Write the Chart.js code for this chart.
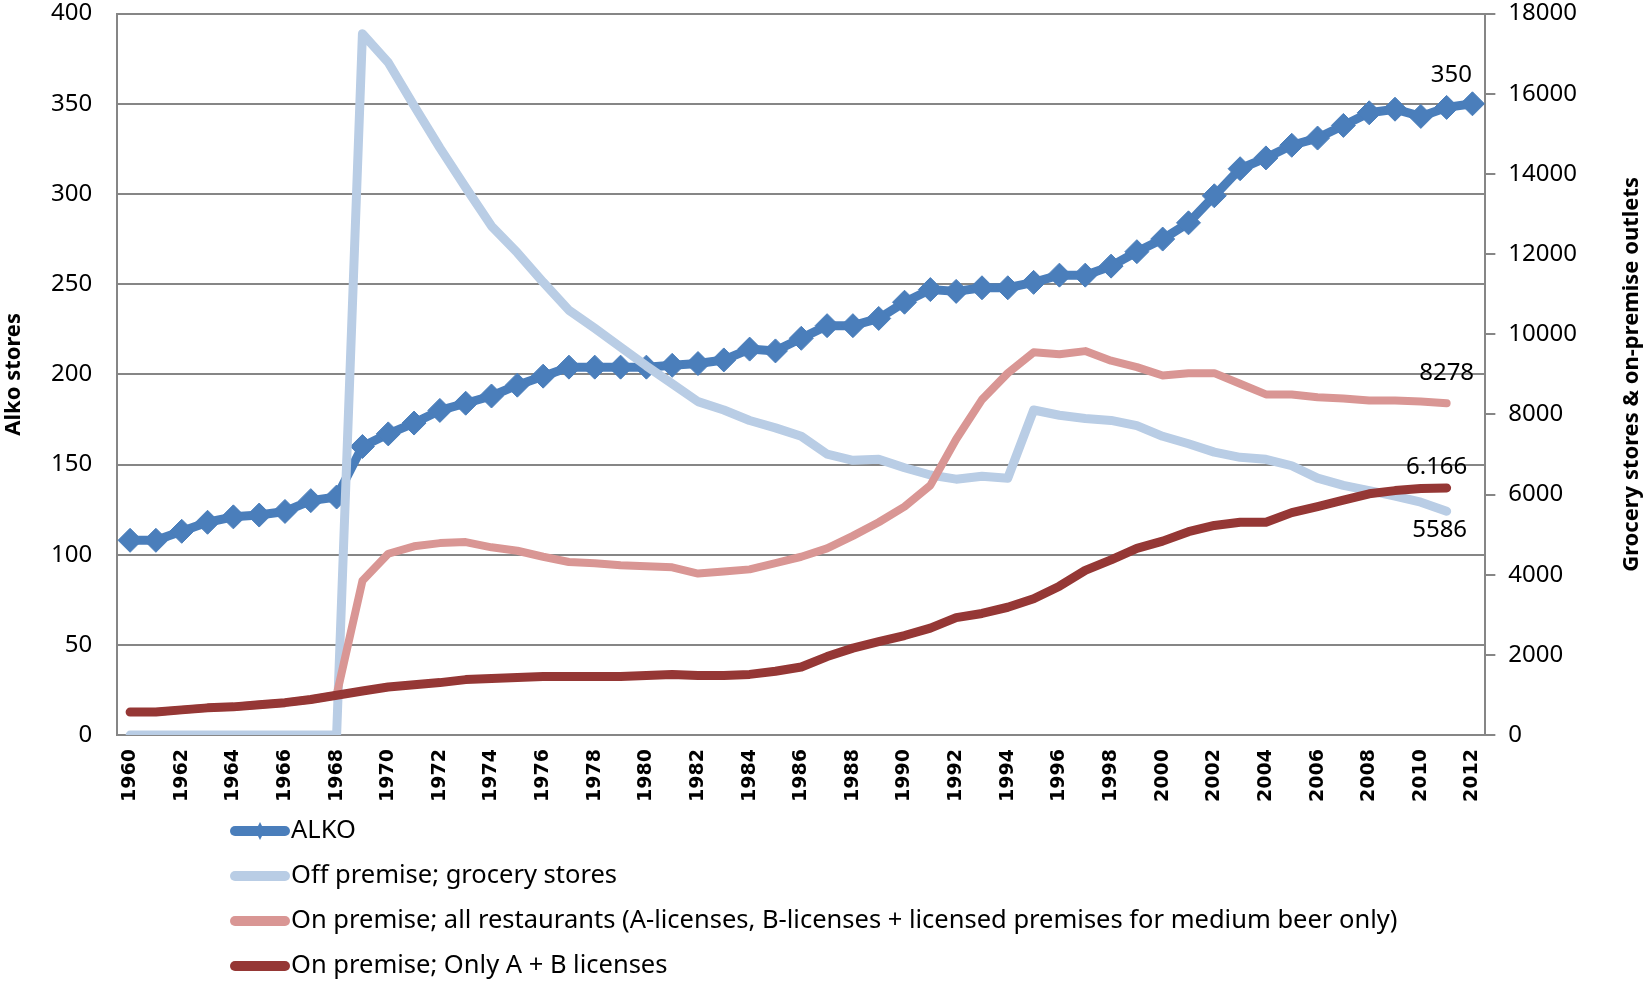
<!DOCTYPE html>
<html>
<head>
<meta charset="utf-8">
<script src="https://cdn.jsdelivr.net/npm/chart.js@4.4.1/dist/chart.umd.min.js"></script>
<style>
  html, body { margin: 0; padding: 0; background: #fff; }
  #wrap { position: relative; width: 1644px; height: 982px; }
</style>
</head>
<body>
<div id="wrap"><canvas id="storesChart" width="1644" height="982"></canvas></div>
<script>
// ===== data =====
const years = [
  '1960','1961','1962','1963','1964','1965','1966','1967','1968','1969',
  '1970','1971','1972','1973','1974','1975','1976','1977','1978','1979',
  '1980','1981','1982','1983','1984','1985','1986','1987','1988','1989',
  '1990','1991','1992','1993','1994','1995','1996','1997','1998','1999',
  '2000','2001','2002','2003','2004','2005','2006','2007','2008','2009',
  '2010','2011','2012'
];

// ALKO stores (left axis)
const alkoStores = [
  108, 108, 113, 118, 121, 122, 124, 130, 132, 160,
  167, 173, 180, 184, 188, 194, 199, 204, 204, 204,
  204, 205, 206, 208, 214, 213, 220, 227, 227, 231,
  240, 247, 246, 248, 248, 251, 255, 255, 260, 268,
  275, 284, 299, 314, 320, 327, 331, 338, 345, 347,
  343, 348, 350
];

// right axis series
const groceryStores = [
  0, 0, 0, 0, 0, 0, 0, 0, 0, 17500,
  16780, 15700, 14650, 13660, 12700, 12035, 11300, 10600, 10150, 9680,
  9210, 8765, 8320, 8110, 7850, 7665, 7455, 7010, 6855, 6880,
  6670, 6490, 6385, 6460, 6410, 8110, 7980, 7900, 7850, 7720,
  7455, 7270, 7060, 6930, 6880, 6720, 6410, 6230, 6100, 5965,
  5810, 5586, null
];

const allRestaurants = [
  575, 575, 630, 680, 705, 760, 810, 890, 995, 3850,
  4525, 4710, 4790, 4815, 4685, 4600, 4450, 4320, 4290, 4240,
  4210, 4185, 4030, 4080, 4135, 4290, 4450, 4660, 4970, 5310,
  5700, 6230, 7380, 8370, 9030, 9550, 9500, 9580, 9340, 9180,
  8970, 9030, 9030, 8765, 8500, 8500, 8430, 8400, 8350, 8350,
  8320, 8278, null
];

const abLicenses = [
  575, 575, 630, 680, 705, 760, 810, 890, 995, 1100,
  1200, 1255, 1310, 1385, 1410, 1440, 1465, 1465, 1465, 1465,
  1490, 1515, 1490, 1490, 1515, 1595, 1700, 1960, 2170, 2330,
  2485, 2670, 2930, 3035, 3190, 3400, 3715, 4110, 4370, 4660,
  4840, 5075, 5230, 5310, 5310, 5550, 5700, 5860, 6020, 6100,
  6150, 6166, null
];

const seriesNames = [
  'ALKO',
  'Off premise; grocery stores',
  'On premise; all restaurants (A-licenses, B-licenses + licensed premises for medium beer only)',
  'On premise; Only A + B licenses'
];

// end labels: dataset index -> text
const endLabelTexts = ['350', '5586', '8278', '6.166'];

const leftTitle = 'Alko stores';
const rightTitle = 'Grocery stores & on-premise outlets';

// ===== plugins =====
const GRID = '#868686';

// axis titles, both reading bottom-to-top
const axisTitles = {
  id: 'axisTitles',
  afterDraw(chart) {
    const { ctx, chartArea } = chart;
    const cy = (chartArea.top + chartArea.bottom) / 2;
    ctx.save();
    ctx.fillStyle = '#000';
    ctx.font = "bold 22px 'Noto Sans'";
    ctx.textAlign = 'center';
    ctx.textBaseline = 'middle';
    [[14, leftTitle], [1632, rightTitle]].forEach(([x, t]) => {
      ctx.save();
      ctx.translate(x, cy);
      ctx.rotate(-Math.PI / 2);
      ctx.fillText(t, 0, 0);
      ctx.restore();
    });
    ctx.restore();
  }
};

// value labels at the ends of the series
const endLabels = {
  id: 'endLabels',
  afterDatasetsDraw(chart) {
    const { ctx } = chart;
    const offsets = [[-21, -29], [-7, 19], [0, -30], [-10, -21]];
    ctx.save();
    ctx.fillStyle = '#000';
    ctx.font = "24px 'Noto Sans'";
    ctx.textAlign = 'center';
    ctx.textBaseline = 'middle';
    endLabelTexts.forEach((txt, di) => {
      const meta = chart.getDatasetMeta(di);
      const data = chart.data.datasets[di].data;
      let last = data.length - 1;
      while (last > 0 && data[last] == null) last--;
      const pt = meta.data[last];
      ctx.fillText(txt, pt.x + offsets[di][0], pt.y + offsets[di][1]);
    });
    ctx.restore();
  }
};

// legend stacked one series per row
const stackedLegend = {
  id: 'stackedLegend',
  afterDraw(chart) {
    const { ctx } = chart;
    const x0 = 230, x1 = 290, y0 = 831, step = 45;
    ctx.save();
    chart.data.datasets.forEach((ds, i) => {
      const y = y0 + i * step;
      ctx.strokeStyle = ds.borderColor;
      ctx.lineWidth = 10;
      ctx.lineCap = 'round';
      ctx.beginPath();
      ctx.moveTo(x0 + 5, y);
      ctx.lineTo(x1 - 5, y);
      ctx.stroke();
      if (ds.pointRadius > 0) {
        const r = 9;
        const cx = (x0 + x1) / 2;
        ctx.fillStyle = ds.pointBackgroundColor;
        ctx.beginPath();
        ctx.moveTo(cx, y - r);
        ctx.lineTo(cx + r * 0.5, y);
        ctx.lineTo(cx, y + r);
        ctx.lineTo(cx - r * 0.5, y);
        ctx.closePath();
        ctx.fill();
      }
      ctx.fillStyle = '#000';
      ctx.font = "25.5px 'Noto Sans'";
      ctx.textAlign = 'left';
      ctx.textBaseline = 'middle';
      ctx.fillText(ds.label, x1 + 1, y);
    });
    ctx.restore();
  }
};

// ===== chart =====
const canvas = document.getElementById('storesChart');

new Chart(canvas, {
  type: 'line',
  data: {
    labels: years,
    datasets: [
      {
        label: seriesNames[0],
        data: alkoStores,
        yAxisID: 'y',
        borderColor: '#4A7EBB',
        borderWidth: 9,
        pointStyle: 'rectRot',
        pointRadius: 12,
        pointBackgroundColor: '#4A7EBB',
        pointBorderColor: '#4A7EBB',
        pointBorderWidth: 1,
        tension: 0,
        order: 4
      },
      {
        label: seriesNames[1],
        data: groceryStores,
        yAxisID: 'y1',
        borderColor: '#B9CDE5',
        borderWidth: 9,
        pointRadius: 0,
        tension: 0,
        order: 3
      },
      {
        label: seriesNames[2],
        data: allRestaurants,
        yAxisID: 'y1',
        borderColor: '#D99694',
        borderWidth: 8,
        pointRadius: 0,
        tension: 0,
        order: 2
      },
      {
        label: seriesNames[3],
        data: abLicenses,
        yAxisID: 'y1',
        borderColor: '#953735',
        borderWidth: 9,
        pointRadius: 0,
        tension: 0,
        order: 1
      }
    ]
  },
  options: {
    responsive: false,
    animation: false,
    layout: { padding: { left: 51, right: 54, top: 0, bottom: 166 } },
    elements: { line: { borderJoinStyle: 'round', borderCapStyle: 'round' } },
    plugins: {
      legend: { display: false },
      tooltip: { enabled: false }
    },
    scales: {
      x: {
        offset: true,
        grid: { display: false, drawTicks: false },
        border: { display: true, color: GRID, width: 2 },
        ticks: {
          autoSkip: false,
          minRotation: 90,
          maxRotation: 90,
          padding: 14,
          color: '#000',
          font: { family: "'DejaVu Sans'", weight: 'bold', size: 19 },
          callback: (v, i) => (i % 2 === 0 ? years[i] : null)
        }
      },
      y: {
        position: 'left',
        min: 0, max: 400,
        ticks: {
          stepSize: 50,
          padding: 0,
          color: '#000',
          font: { family: "'Noto Sans'", size: 24, lineHeight: 1 }
        },
        // invisible tick marks give the gap between labels and axis
        grid: { color: GRID, lineWidth: 2, drawTicks: true, tickLength: 25, tickColor: 'rgba(0,0,0,0)' },
        border: { display: true, color: GRID, width: 2 }
      },
      y1: {
        position: 'right',
        min: 0, max: 18000,
        ticks: {
          stepSize: 2000,
          padding: 13,
          color: '#000',
          font: { family: "'Noto Sans'", size: 24, lineHeight: 0.05 },
          callback: v => String(v)
        },
        grid: { drawOnChartArea: false, drawTicks: true, tickLength: 10, color: GRID, lineWidth: 2 },
        border: { display: true, color: GRID, width: 2 }
      }
    }
  },
  plugins: [axisTitles, endLabels, stackedLegend]
});
</script>
</body>
</html>
